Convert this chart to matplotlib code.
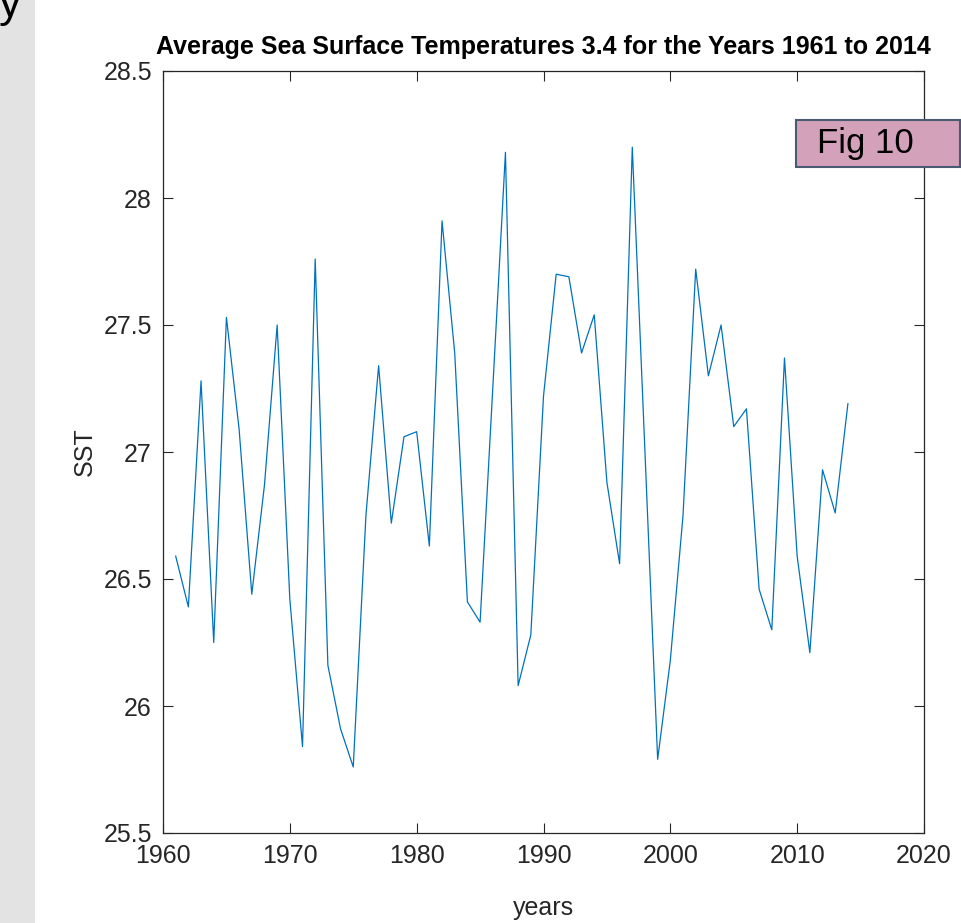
import numpy as np
import matplotlib
matplotlib.use("Agg")
import matplotlib.pyplot as plt
from matplotlib.patches import Rectangle
from matplotlib.ticker import FuncFormatter

# ---- data (Nino 3.4 annual mean SST)
years = np.arange(1961, 2015)
sst = [26.59, 26.39, 27.28, 26.25, 27.53, 27.09, 26.44, 26.87, 27.50, 26.42,
       25.84, 27.76, 26.16, 25.91, 25.76, 26.75, 27.34, 26.72, 27.06, 27.08,
       26.63, 27.91, 27.39, 26.41, 26.33, 27.25, 28.18, 26.08, 26.28, 27.22,
       27.70, 27.69, 27.39, 27.54, 26.88, 26.56, 28.20, 27.00, 25.79, 26.18,
       26.75, 27.72, 27.30, 27.50, 27.10, 27.17, 26.46, 26.30, 27.37, 26.59,
       26.21, 26.93, 26.76, 27.19]
xticks = [1960, 1970, 1980, 1990, 2000, 2010, 2020]
yticks = [25.5, 26, 26.5, 27, 27.5, 28, 28.5]

SANS = ["Liberation Sans", "DejaVu Sans"]
INK = "#262626"

fig = plt.figure(figsize=(9.62, 9.23), dpi=100)
fig.patch.set_facecolor("white")

# grey slide strip on the left, with the clipped "y" from the slide text
fig.patches.append(Rectangle((0, 0), 35 / 962, 1, transform=fig.transFigure,
                             facecolor="#e3e3e3", edgecolor="none", zorder=0))
fig.text(-1 / 962, 1 - 17 / 923, "y", fontsize=32, family=SANS, color="black",
         ha="left", va="baseline")

ax = fig.add_axes([163 / 962, 1 - 833 / 923, 761 / 962, 762 / 923])
ax.plot(years, sst, color="#0072BD", lw=0.9)

ax.set_xlim(1960, 2020)
ax.set_ylim(25.5, 28.5)
ax.set_xticks(xticks)
ax.set_yticks(yticks)
ax.yaxis.set_major_formatter(FuncFormatter(lambda v, p: "%g" % v))
ax.tick_params(direction="in", length=7, width=0.8, top=True, right=True,
               colors=INK, labelsize=18, pad=8)
for lab in ax.get_xticklabels() + ax.get_yticklabels():
    lab.set_family(SANS)
for s in ax.spines.values():
    s.set_color(INK)
    s.set_linewidth(0.9)

ax.set_xlabel("years", fontsize=18, family=SANS, color=INK, labelpad=20)
ax.set_ylabel("SST", fontsize=18, family=SANS, color=INK, labelpad=5)
ax.set_title("Average Sea Surface Temperatures 3.4 for the Years 1961 to 2014",
             fontsize=18, fontweight="bold", family=SANS, color="black", pad=12)

# "Fig 10" label box laid over the top right corner
fig.patches.append(Rectangle((796 / 962, 1 - 167 / 923), 164 / 962, 47 / 923,
                             transform=fig.transFigure, facecolor="#d4a1bb",
                             edgecolor="#4a5a70", lw=1.5, zorder=10))
fig.text(817 / 962, 1 - 143 / 923, "Fig 10", fontsize=25, family=SANS,
         color="black", ha="left", va="center", zorder=11)

fig.savefig("out.png", dpi=100)
